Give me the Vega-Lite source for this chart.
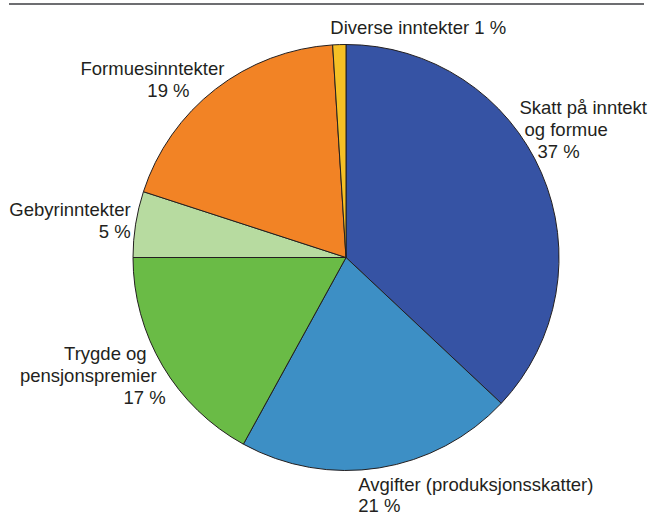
{
  "$schema": "https://vega.github.io/schema/vega-lite/v6.json",
  "width": 612,
  "height": 515,
  "autosize": {"type": "none"},
  "padding": {"left": 40, "top": 0, "right": 0, "bottom": 0},
  "background": "white",
  "config": {"view": {"stroke": null}, "text": {"font": "Liberation Sans", "fontSize": 18.5, "color": "#231f20", "radius": 213, "baseline": "alphabetic"}},
  "data": {
    "values": [
      {"kategori": "Skatt på inntekt og formue", "andel": 37, "rekkefolge": 1, "etikett": "Skatt på inntekt\nog formue\n37 %"},
      {"kategori": "Avgifter (produksjonsskatter)", "andel": 21, "rekkefolge": 2, "etikett": "Avgifter (produksjonsskatter)\n21 %"},
      {"kategori": "Trygde og pensjonspremier", "andel": 17, "rekkefolge": 3, "etikett": "Trygde og\npensjonspremier\n17 %"},
      {"kategori": "Gebyrinntekter", "andel": 5, "rekkefolge": 4, "etikett": "Gebyrinntekter\n5 %"},
      {"kategori": "Formuesinntekter", "andel": 19, "rekkefolge": 5, "etikett": "Formuesinntekter\n19 %"},
      {"kategori": "Diverse inntekter", "andel": 1, "rekkefolge": 6, "etikett": "Diverse inntekter 1 %"}
    ]
  },
  "transform": [
    {"calculate": "split(datum.etikett, '\\n')[0]", "as": "l1"},
    {"calculate": "split(datum.etikett, '\\n')[1]", "as": "l2"},
    {"calculate": "split(datum.etikett, '\\n')[2]", "as": "l3"}
  ],
  "encoding": {
    "theta": {"field": "andel", "type": "quantitative", "stack": true},
    "order": {"field": "rekkefolge", "type": "quantitative"}
  },
  "layer": [
    {
      "mark": {"type": "arc", "outerRadius": 213, "stroke": "#231f20", "strokeWidth": 1},
      "encoding": {
        "color": {
          "field": "kategori",
          "type": "nominal",
          "scale": {
            "domain": ["Skatt på inntekt og formue", "Avgifter (produksjonsskatter)", "Trygde og pensjonspremier", "Gebyrinntekter", "Formuesinntekter", "Diverse inntekter"],
            "range": ["#3653a4", "#3d8fc5", "#6abb46", "#b7dba0", "#f28325", "#f5c025"]
          },
          "legend": null
        }
      }
    },
    {
      "mark": {"type": "text", "align": "left", "dx": -22, "dy": -59},
      "encoding": {"text": {"condition": {"test": "datum.rekkefolge == 1", "field": "l1"}, "value": ""}}
    },
    {
      "mark": {"type": "text", "align": "left", "dx": -17, "dy": -37},
      "encoding": {"text": {"condition": {"test": "datum.rekkefolge == 1", "field": "l2"}, "value": ""}}
    },
    {
      "mark": {"type": "text", "align": "left", "dx": -4, "dy": -15},
      "encoding": {"text": {"condition": {"test": "datum.rekkefolge == 1", "field": "l3"}, "value": ""}}
    },
    {
      "mark": {"type": "text", "align": "left", "dx": -21, "dy": 23},
      "encoding": {"text": {"condition": {"test": "datum.rekkefolge == 2", "field": "l1"}, "value": ""}}
    },
    {
      "mark": {"type": "text", "align": "left", "dx": -21, "dy": 44},
      "encoding": {"text": {"condition": {"test": "datum.rekkefolge == 2", "field": "l2"}, "value": ""}}
    },
    {
      "mark": {"type": "text", "align": "right", "dx": -16, "dy": -6},
      "encoding": {"text": {"condition": {"test": "datum.rekkefolge == 3", "field": "l1"}, "value": ""}}
    },
    {
      "mark": {"type": "text", "align": "right", "dx": -6, "dy": 16},
      "encoding": {"text": {"condition": {"test": "datum.rekkefolge == 3", "field": "l2"}, "value": ""}}
    },
    {
      "mark": {"type": "text", "align": "right", "dx": 3, "dy": 38},
      "encoding": {"text": {"condition": {"test": "datum.rekkefolge == 3", "field": "l3"}, "value": ""}}
    },
    {
      "mark": {"type": "text", "align": "right", "dx": -5, "dy": -8},
      "encoding": {"text": {"condition": {"test": "datum.rekkefolge == 4", "field": "l1"}, "value": ""}}
    },
    {
      "mark": {"type": "text", "align": "right", "dx": -5, "dy": 14},
      "encoding": {"text": {"condition": {"test": "datum.rekkefolge == 4", "field": "l2"}, "value": ""}}
    },
    {
      "mark": {"type": "text", "align": "center", "dx": -63, "dy": -14},
      "encoding": {"text": {"condition": {"test": "datum.rekkefolge == 5", "field": "l1"}, "value": ""}}
    },
    {
      "mark": {"type": "text", "align": "center", "dx": -47, "dy": 8},
      "encoding": {"text": {"condition": {"test": "datum.rekkefolge == 5", "field": "l2"}, "value": ""}}
    },
    {
      "mark": {"type": "text", "align": "left", "dx": -9, "dy": -11},
      "encoding": {"text": {"condition": {"test": "datum.rekkefolge == 6", "field": "l1"}, "value": ""}}
    },
    {
      "mark": {"type": "rule", "color": "#6d6e71", "strokeWidth": 2},
      "encoding": {"x": {"value": -31}, "x2": {"value": 604}, "y": {"value": 4}, "theta": null, "order": null}
    }
  ]
}
